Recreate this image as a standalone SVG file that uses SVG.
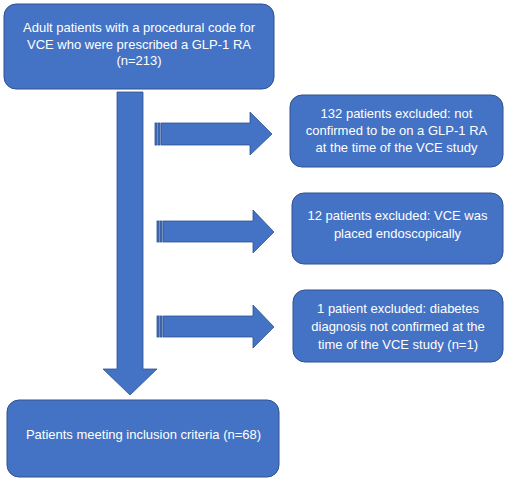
<svg xmlns="http://www.w3.org/2000/svg" width="509" height="482" viewBox="0 0 509 482">
<style>
.box{fill:#4472C4;stroke:#2F528F;stroke-width:1}
.arr{fill:#4472C4;stroke:#2F528F;stroke-width:0.8}
.t{font-family:"Liberation Sans",Arial,sans-serif;font-size:13px;fill:#FFFFFF;text-anchor:middle}
</style>
<rect width="509" height="482" fill="#FFFFFF"/>
<g id="connectors">
<path class="arr" d="M117,92 H143 V369 H157 L130,395 L103,369 H117 Z"/>
<g id="arrow1">
<rect class="arr" x="155" y="123" width="2" height="22"/>
<rect class="arr" x="158" y="123" width="2" height="22"/>
<path class="arr" d="M161,123 H250 V112 L272,134 L250,155 V145 H161 Z"/>
</g>
<g id="arrow2">
<rect class="arr" x="157" y="221" width="2" height="21"/>
<rect class="arr" x="160" y="221" width="2" height="21"/>
<path class="arr" d="M163,221 H253 V210 L274,232 L253,253 V242 H163 Z"/>
</g>
<g id="arrow3">
<rect class="arr" x="157" y="316" width="2" height="21"/>
<rect class="arr" x="160" y="316" width="2" height="21"/>
<path class="arr" d="M163,316 H253 V305 L274,327 L253,348 V337 H163 Z"/>
</g>
</g>
<g id="start">
<rect class="box" x="4" y="4" width="270" height="85" rx="12"/>
<text class="t" x="139" y="32">Adult patients with a procedural code for</text>
<text class="t" x="139" y="48.5">VCE who were prescribed a GLP-1 RA</text>
<text class="t" x="139" y="65">(n=213)</text>
</g>
<g id="excl1">
<rect class="box" x="290" y="95" width="213" height="72" rx="12"/>
<text class="t" x="396.5" y="118">132 patients excluded: not</text>
<text class="t" x="396.5" y="135">confirmed to be on a GLP-1 RA</text>
<text class="t" x="396.5" y="152">at the time of the VCE study</text>
</g>
<g id="excl2">
<rect class="box" x="292" y="193" width="211" height="71" rx="12"/>
<text class="t" x="397.5" y="220">12 patients excluded: VCE was</text>
<text class="t" x="397.5" y="238">placed endoscopically</text>
</g>
<g id="excl3">
<rect class="box" x="293" y="290" width="210" height="72" rx="12"/>
<text class="t" x="398" y="313">1 patient excluded: diabetes</text>
<text class="t" x="398" y="331">diagnosis not confirmed at the</text>
<text class="t" x="398" y="349">time of the VCE study (n=1)</text>
</g>
<g id="final">
<rect class="box" x="7" y="400" width="272" height="77" rx="12"/>
<text class="t" x="143.5" y="439">Patients meeting inclusion criteria (n=68)</text>
</g>
</svg>
